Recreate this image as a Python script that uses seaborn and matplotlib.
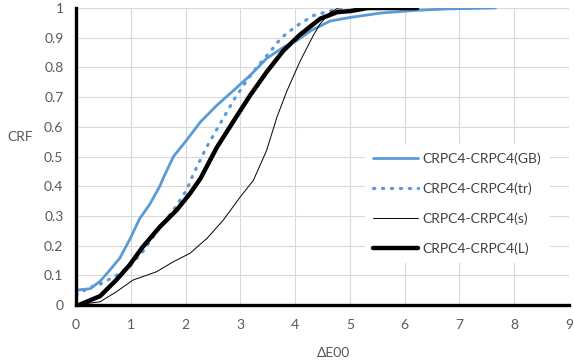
import matplotlib
matplotlib.use("Agg")
import matplotlib.pyplot as plt
import seaborn as sns

# (Delta E00 vs cumulative relative frequency)
gb_x = [0, 0.26, 0.44, 0.62, 0.80, 0.98, 1.16, 1.35, 1.53, 1.6, 1.78, 2.02, 2.27, 2.57,
        2.88, 3.18, 3.48, 3.79, 4.03, 4.3, 4.64, 5.0, 5.56, 6.2, 6.78, 7.66]
gb_y = [0.05, 0.055, 0.08, 0.118, 0.158, 0.22, 0.29, 0.34, 0.40, 0.43, 0.50, 0.555, 0.616, 0.672,
        0.723, 0.773, 0.83, 0.868, 0.89, 0.925, 0.956, 0.968, 0.983, 0.992, 0.997, 1.0]

tr_x = [0, 0.26, 0.44, 0.74, 0.98, 1.22, 1.47, 1.78, 2.02, 2.14, 2.38, 2.63, 2.88, 3.12,
        3.30, 3.6, 3.75, 4.03, 4.34, 4.64, 4.92]
tr_y = [0.034, 0.06, 0.07, 0.10, 0.13, 0.18, 0.246, 0.32, 0.387, 0.44, 0.53, 0.61, 0.69, 0.756,
        0.80, 0.865, 0.90, 0.94, 0.975, 0.99, 1.0]

s_x = [0, 0.44, 0.74, 1.04, 1.47, 1.78, 2.08, 2.39, 2.69, 3.0, 3.24, 3.48, 3.67, 3.85,
       4.09, 4.34, 4.46, 4.64, 4.79]
s_y = [0, 0.011, 0.045, 0.084, 0.112, 0.146, 0.174, 0.224, 0.286, 0.364, 0.42, 0.52, 0.633, 0.72,
       0.82, 0.91, 0.947, 0.985, 1.0]

l_x = [0.05, 0.44, 0.74, 0.98, 1.22, 1.53, 1.84, 2.08, 2.27, 2.57, 2.88, 3.18, 3.48, 3.79,
       4.09, 4.46, 4.77, 5.02, 5.33, 6.23]
l_y = [0, 0.03, 0.085, 0.135, 0.196, 0.263, 0.32, 0.375, 0.425, 0.53, 0.62, 0.706, 0.784, 0.857,
       0.91, 0.964, 0.986, 0.99, 1.0, 1.0]

labels = ["CRPC4-CRPC4(GB)", "CRPC4-CRPC4(tr)", "CRPC4-CRPC4(s)", "CRPC4-CRPC4(L)"]
x_ticks = list(range(10))
y_ticks = [i / 10 for i in range(11)]
y_ticklabels = ["0"] + [f"{v:.1f}" for v in y_ticks[1:-1]] + ["1"]

sns.set_style("whitegrid", {"grid.color": "#d9d9d9"})
plt.rcParams["font.family"] = ["Lato", "DejaVu Sans"]

fig = plt.figure(figsize=(5.74, 3.64), dpi=100)
ax = fig.add_axes([0.1324, 0.162, 0.8586, 0.816])

blue = "#5b9bd5"
sns.lineplot(x=gb_x, y=gb_y, ax=ax, color=blue, lw=2.0, sort=False, label=labels[0])
sns.lineplot(x=tr_x, y=tr_y, ax=ax, color=blue, lw=2.3, sort=False, label=labels[1],
             linestyle=(0, (0.4, 2.4)), dash_capstyle="round")
sns.lineplot(x=s_x, y=s_y, ax=ax, color="black", lw=0.7, sort=False, label=labels[2])
sns.lineplot(x=l_x, y=l_y, ax=ax, color="black", lw=3.2, sort=False, label=labels[3])

ax.set_xlim(0, 9)
ax.set_ylim(0, 1)
ax.set_xticks(x_ticks)
ax.set_yticks(y_ticks)
ax.set_yticklabels(y_ticklabels)
ax.tick_params(colors="#595959", labelsize=10, length=0)
ax.tick_params(axis="x", pad=10)
ax.tick_params(axis="y", pad=9)

for side in ["top", "right"]:
    ax.spines[side].set_visible(False)
for side in ["left", "bottom"]:
    ax.spines[side].set_color("black")
    ax.spines[side].set_linewidth(2.4)

ax.set_ylabel("CRF", rotation=0, color="#595959", fontsize=10)
ax.yaxis.set_label_coords(-0.114, 0.545)
ax.set_xlabel("ΔE00", color="#595959", fontsize=10)
ax.xaxis.set_label_coords(0.523, -0.14)

leg = ax.legend(loc="center", bbox_to_anchor=(0.55, 0.15, 0.447, 0.382), frameon=True,
                facecolor="white", edgecolor="none", framealpha=1, fancybox=False,
                handlelength=3.2, handletextpad=0.35, labelspacing=1.25, fontsize=10,
                borderpad=0.6)
leg.get_frame().set_boxstyle("square", pad=0)
for t in leg.get_texts():
    t.set_color("#404040")

fig.savefig("out.png", dpi=100)
